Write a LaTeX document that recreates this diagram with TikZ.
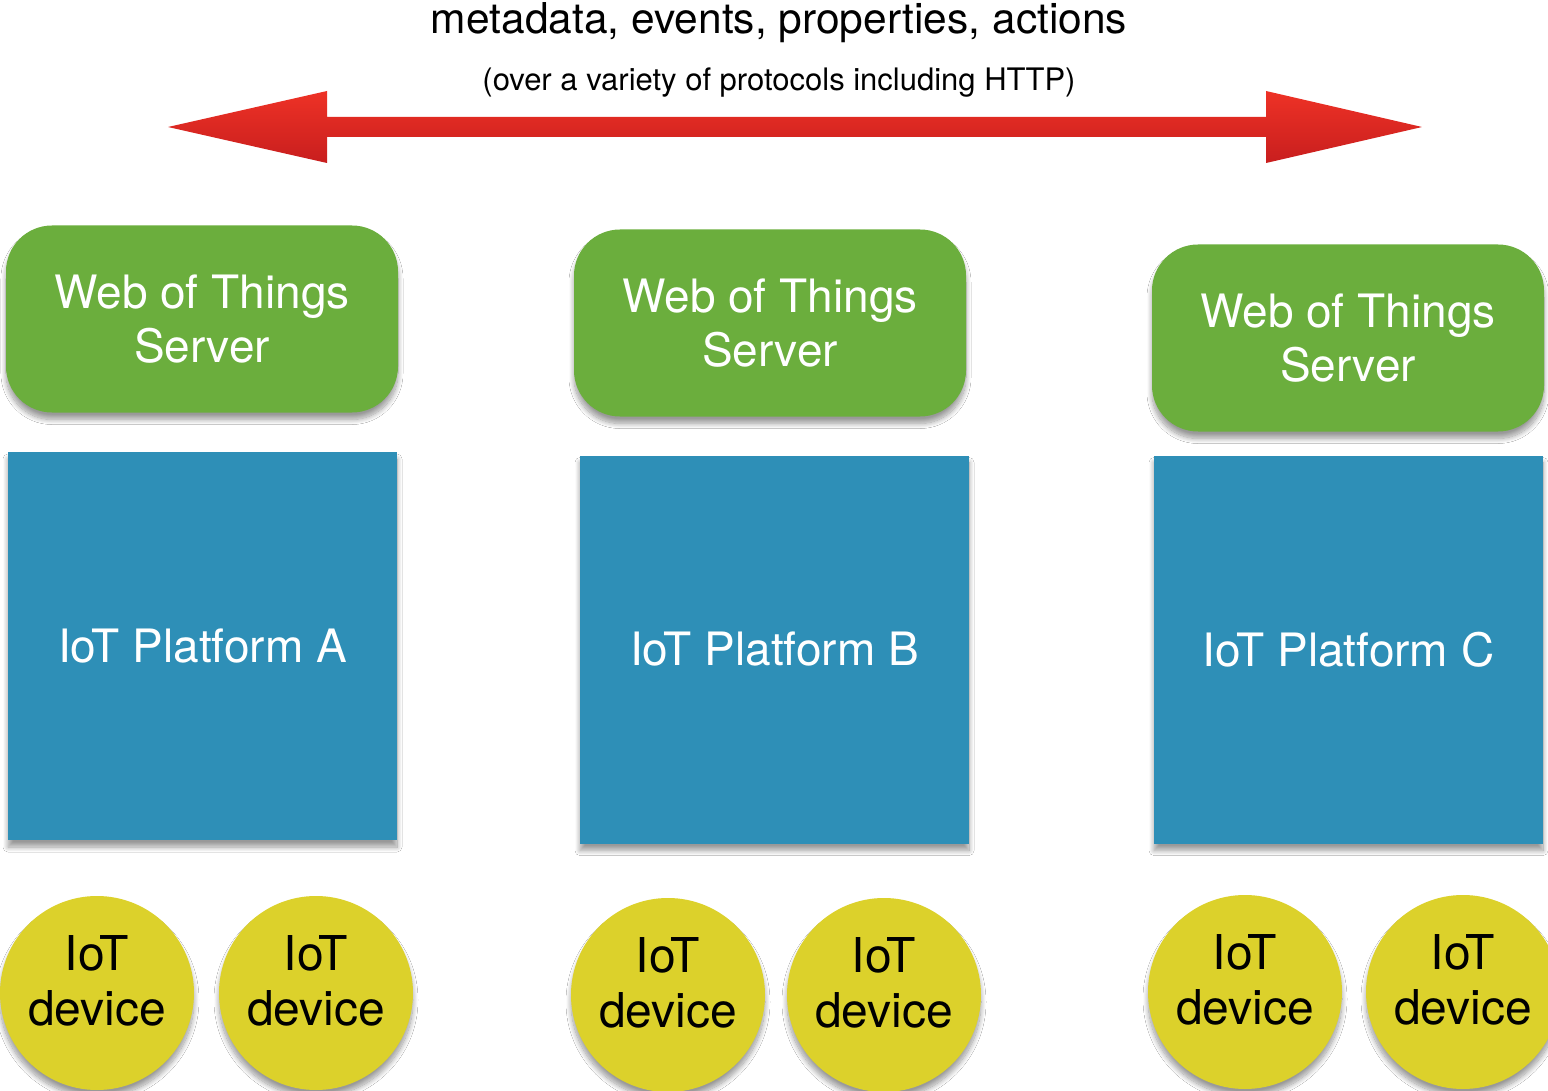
\documentclass[tikz,border=0pt]{standalone}
\usepackage{fontspec}
\setmainfont{TeX Gyre Heros}
\usetikzlibrary{calc,shadows,shadows.blur}
\definecolor{wotgreen}{HTML}{6BAE3D}
\definecolor{platblue}{HTML}{2E8FB7}
\definecolor{devyellow}{HTML}{DCD12B}
\definecolor{arrowtop}{HTML}{EE3226}
\definecolor{arrowbot}{HTML}{C81E1E}
\tikzset{
  softshadow/.style={blur shadow={shadow xshift=0pt,shadow yshift=-7pt,shadow blur radius=5pt,shadow blur steps=12,shadow opacity=40}},
  serverbox/.style={rectangle,rounded corners=46pt,fill=wotgreen,minimum width=392pt,minimum height=187pt,
    text=white,font=\fontsize{46}{54}\selectfont,align=center,inner sep=0pt,softshadow},
  platbox/.style={rectangle,fill=platblue,minimum width=389pt,minimum height=388pt,
    text=white,font=\fontsize{46}{54}\selectfont,align=center,inner sep=0pt,softshadow},
  devcirc/.style={circle,fill=devyellow,minimum size=194pt,inner sep=0pt,softshadow},
  devtext/.style={text=black,font=\fontsize{48}{55}\selectfont,align=center,inner sep=0pt,yshift=12pt},
  titletext/.style={font=\fontsize{42.5}{50}\selectfont,text=black,inner sep=0pt},
  subtext/.style={font=\fontsize{31}{36}\selectfont,text=black,inner sep=0pt},
}
\begin{document}
\begin{tikzpicture}[x=1pt,y=-1pt]
\useasboundingbox (0,0) rectangle (1548,1091);
\fill[white] (0,0) rectangle (1548,1091);

% titles
\node[titletext,anchor=base] (title) at (779,34) {metadata, events, properties, actions};
\node[subtext,anchor=base] (sub) at (779,91) {(over a variety of protocols including HTTP)};

% double arrow
\coordinate (L) at (168,127);
\coordinate (R) at (1422,127);
\shade[top color=arrowtop,bottom color=arrowbot]
  (L) -- ($(L)+(159,-36)$) -- ($(L)+(159,-10)$) -- ($(R)+(-156,-10)$) -- ($(R)+(-156,-36)$)
  -- (R) -- ($(R)+(-156,36)$) -- ($(R)+(-156,10)$) -- ($(L)+(159,10)$) -- ($(L)+(159,36)$) -- cycle;

% servers
\node[serverbox] (srvA) at (202,319) {Web of Things\\Server};
\node[serverbox] (srvB) at (770,323) {Web of Things\\Server};
\node[serverbox] (srvC) at (1348,338) {Web of Things\\Server};

% platforms
\node[platbox] (platA) at (202.5,646) {IoT Platform A};
\node[platbox] (platB) at (774.5,649.5) {IoT Platform B};
\node[platbox] (platC) at (1348.5,649.5) {IoT Platform C};

% devices
\foreach \n/\x/\y in {dA1/97/993, dA2/316/993, dB1/668/995, dB2/884/995, dC1/1245/992, dC2/1463/992}{
  \node[devcirc] (\n) at (\x,\y) {};
  \node[devtext] (\n-t) at (\n.center) {IoT\\device};
}
\end{tikzpicture}
\end{document}
